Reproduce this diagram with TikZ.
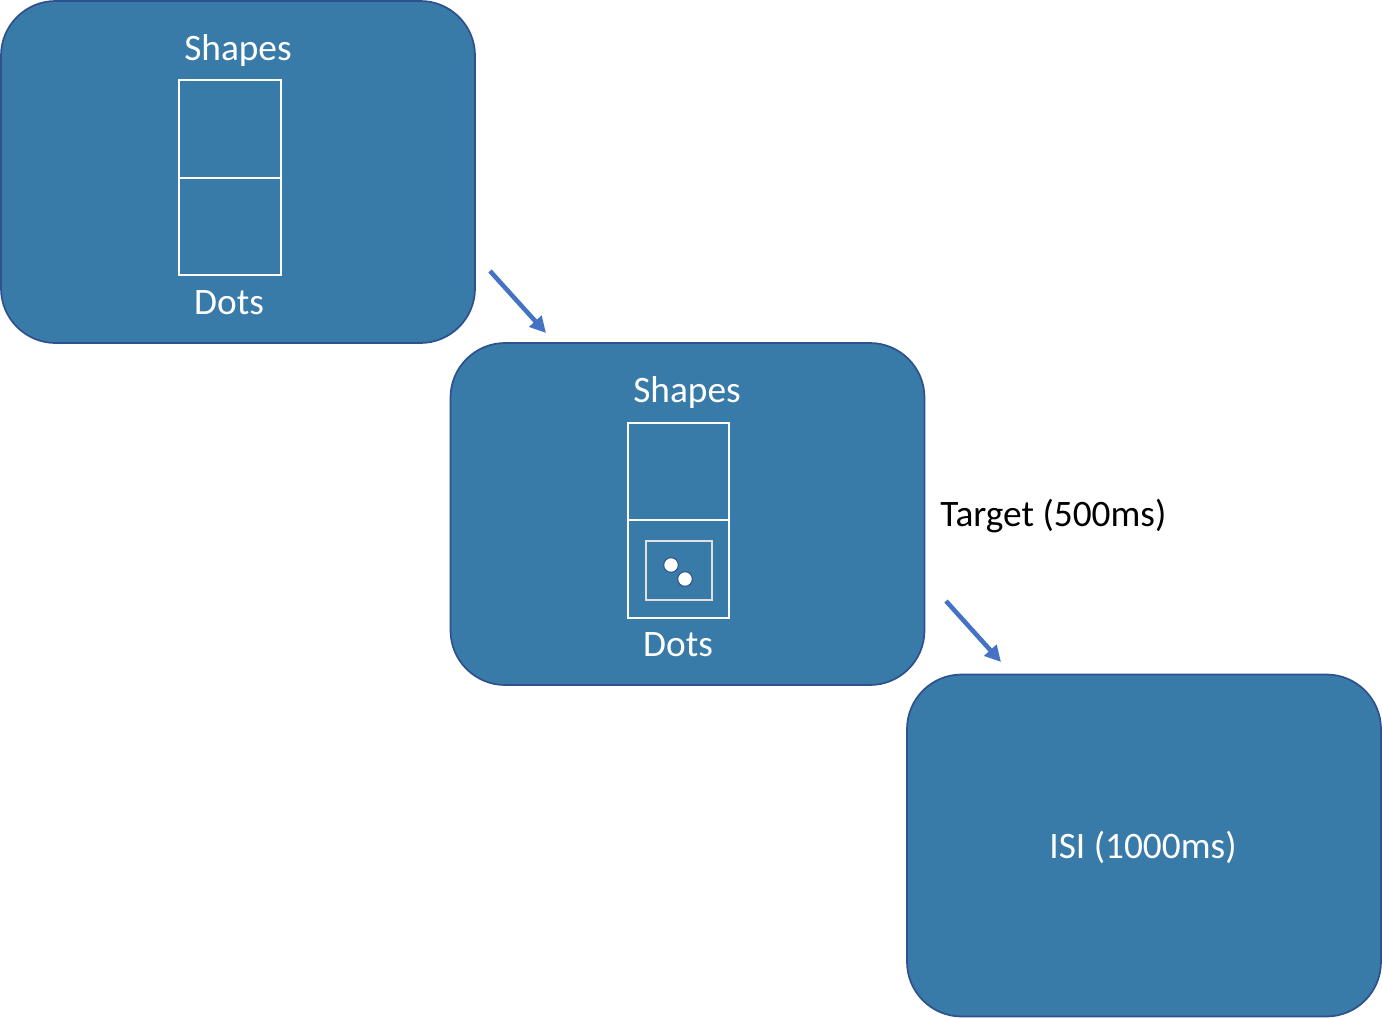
\documentclass[tikz,border=0pt]{standalone}
\usepackage{fontspec}
\setmainfont{Carlito}
\usetikzlibrary{arrows.meta}
\definecolor{panelfill}{RGB}{56,123,168}
\definecolor{paneldraw}{RGB}{47,82,143}
\definecolor{arrowblue}{RGB}{68,114,196}
\tikzset{
  panel/.style={draw=paneldraw, line width=1.3pt, fill=panelfill, rounded corners=41pt, inner sep=0pt,
    minimum width=355.5pt, minimum height=256.5pt},
  wtext/.style={text=white, font=\fontsize{28}{33}\selectfont, inner sep=0pt, anchor=center},
  btext/.style={text=black, font=\fontsize{28}{33}\selectfont, inner sep=0pt},
  frame/.style={draw=white, line width=1.6pt, inner sep=0pt, minimum width=76pt, minimum height=73pt},
  smallframe/.style={draw=white!88!black, line width=1.5pt, inner sep=0pt, minimum width=49.5pt, minimum height=44pt},
  dotc/.style={circle, fill=white, draw=paneldraw, line width=0.8pt, inner sep=0pt, minimum size=11pt},
  flow/.style={draw=arrowblue, line width=3.4pt, -{Triangle[length=12pt, width=12pt]}}
}
\begin{document}
\begin{tikzpicture}[x=0.75pt, y=-0.75pt]
\useasboundingbox (0,0) rectangle (1382,1018);
% panels
\node[panel] (p1) at (238,172) {};
\node[panel] (p2) at (687.5,514) {};
\node[panel] (p3) at (1144,845.5) {};
% panel 1
\node[wtext] (s1) at (238,51) {Shapes};
\node[frame] (u1) at (230,129) {};
\node[frame] (l1) at (230,226.5) {};
\node[wtext] (d1) at (229,303) {Dots};
% panel 2
\node[wtext] (s2) at (687,393) {Shapes};
\node[frame] (u2) at (678.5,471.5) {};
\node[frame] (l2) at (678.5,569) {};
\node[smallframe] (sf) at (679,570.5) {};
\node[dotc] (dA) at (671,565) {};
\node[dotc] (dB) at (685,579) {};
\node[wtext] (d2) at (678,645) {Dots};
% labels
\node[btext, anchor=west] (tg) at (940,516) {Target (500ms)};
\node[wtext] (isi) at (1143,847) {ISI (1000ms)};
% arrows
\coordinate (a1s) at (490,271);
\coordinate (a1e) at (546,333);
\coordinate (a2s) at (946,601);
\coordinate (a2e) at (1001,662);
\draw[flow] (a1s) -- (a1e);
\draw[flow] (a2s) -- (a2e);
\end{tikzpicture}
\end{document}
